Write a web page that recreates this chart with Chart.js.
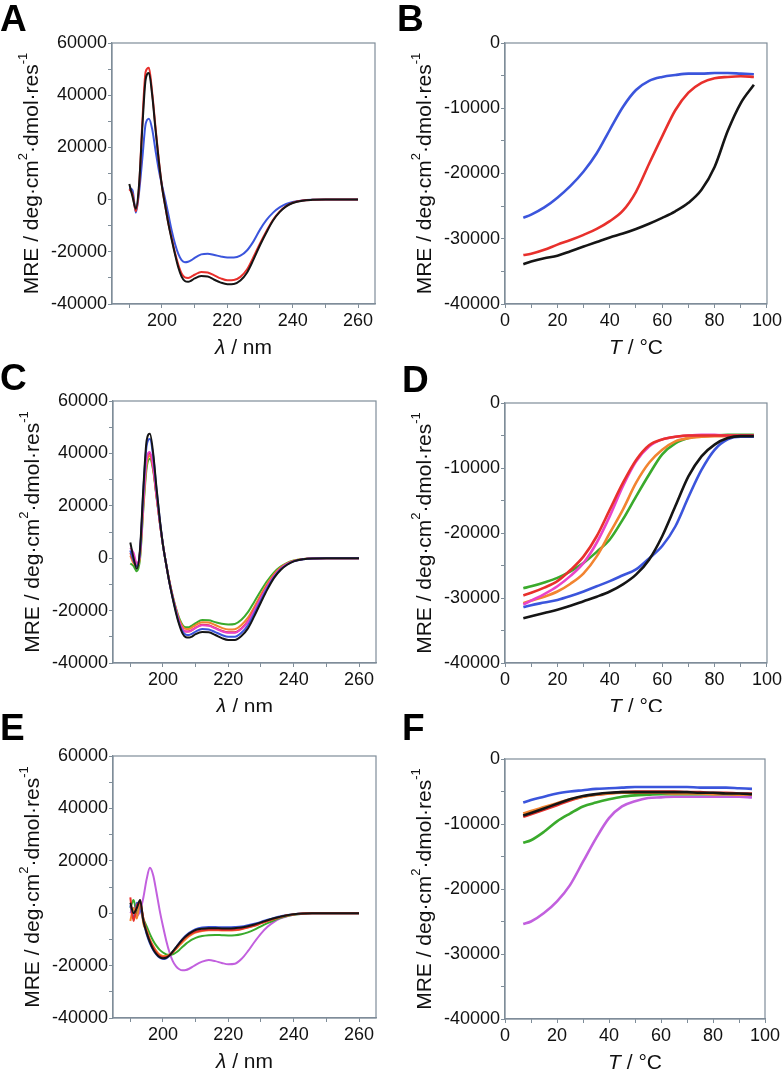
<!DOCTYPE html>
<html lang="en">
<head>
<meta charset="UTF-8">
<title>CD spectra and thermal melts</title>
<script src="https://cdn.jsdelivr.net/npm/chart.js"></script>
<style>
  body { margin: 0; background: #fff; width: 784px; height: 1073px; position: relative; overflow: hidden; }
  canvas { position: absolute; }
</style>
</head>
<body>
<script>
// ---- data ----
const wavelength = [190, 191, 192, 193, 194, 195, 196, 197, 198, 199, 200, 201, 202, 203, 204, 205, 206, 207, 208, 209, 210,
  212, 214, 216, 218, 220, 222, 224, 226, 228, 230, 232, 234, 236, 238, 240, 243, 246, 250, 255, 260];
const temperature = [7, 10, 15, 20, 25, 30, 35, 40, 45, 50, 55, 60, 65, 70, 75, 80, 85, 90, 95];

// panel A
const aBlack = [6000, 1000, -3500, 6000, 28000, 46000, 48500, 40000, 27000, 15000, 5000, -2500, -9500, -15500, -21000, -26000, -29500, -31200, -31500, -31000, -30200,
  -29300, -29500, -30700, -31800, -32400, -32300, -31000, -28000, -23000, -17500, -12500, -8000, -4800, -2600, -1300, -400, -100, 0, 0, 0];
const aRed = [4000, 2000, -4500, 5000, 30000, 49000, 50500, 41000, 28000, 15500, 5000, -2500, -9500, -15000, -20500, -25000, -28300, -29800, -30000, -29500, -28800,
  -27700, -27900, -29000, -30200, -30900, -30800, -29600, -26800, -22000, -16800, -12000, -7700, -4600, -2500, -1200, -350, -100, 0, 0, 0];
const aBlue = [4500, 3500, -5000, 3000, 16000, 29000, 31000, 27000, 19000, 11500, 5500, 0, -6000, -12000, -17000, -20800, -23200, -24000, -23800, -23200, -22300,
  -21000, -20700, -21200, -21800, -22200, -22200, -21500, -19500, -16000, -11500, -7800, -5000, -3000, -1700, -900, -300, -80, 0, 0, 0];

// panel B
const bBlack = [-33900, -33500, -33000, -32600, -31900, -31200, -30500, -29800, -29200, -28500, -27700, -26800, -25800, -24500, -22500, -19000, -13500, -9200, -6400];
const bRed = [-32500, -32300, -31700, -30900, -30200, -29400, -28500, -27300, -25700, -22800, -18500, -14300, -10300, -7600, -6100, -5400, -5200, -5100, -5200];
const bBlue = [-26800, -26300, -25200, -23700, -21900, -19700, -16900, -13300, -9800, -7200, -5800, -5200, -4900, -4700, -4700, -4600, -4600, -4700, -4800];

// panel C
const cBlack = [6000, 0, -4000, 4000, 27000, 45000, 47500, 40000, 27000, 15000, 5000, -2500, -9500, -15500, -21000, -25500, -28800, -30200, -30300, -29800, -29000,
  -28200, -28300, -29300, -30500, -31200, -31200, -29700, -26800, -22000, -16800, -11800, -7500, -4500, -2500, -1200, -400, -100, 0, 0, 0];
const cBlue = [3000, -1000, -3000, 3000, 26000, 43000, 45500, 39000, 26500, 15000, 5000, -2500, -9500, -15300, -20500, -25000, -28000, -29200, -29300, -28800, -28000,
  -27000, -27200, -28200, -29300, -30000, -30000, -28500, -25600, -21000, -16000, -11200, -7200, -4300, -2400, -1200, -400, -100, 0, 0, 0];
const cMagenta = [4000, 2000, -2000, 2000, 22000, 38000, 40500, 35000, 24500, 14000, 5000, -2500, -9300, -15000, -20000, -24300, -27000, -28000, -28000, -27400, -26600,
  -25600, -25800, -26800, -27900, -28500, -28500, -27000, -24300, -19800, -15000, -10500, -6700, -4000, -2200, -1100, -350, -100, 0, 0, 0];
const cRed = [2000, -1000, -3000, 3000, 23000, 38500, 40000, 34500, 24000, 14000, 5000, -2500, -9300, -15000, -20000, -24200, -27000, -28000, -27900, -27300, -26500,
  -25400, -25600, -26600, -27700, -28300, -28300, -26800, -24000, -19500, -14800, -10300, -6600, -3900, -2200, -1100, -350, -100, 0, 0, 0];
const cOrange = [1000, -2000, -3000, 1000, 20000, 36000, 39000, 34000, 24000, 14000, 5000, -2500, -9000, -14700, -19500, -23500, -26000, -27000, -27000, -26300, -25500,
  -24400, -24500, -25500, -26600, -27200, -27100, -25500, -22700, -18400, -13800, -9600, -6100, -3600, -2000, -1000, -300, -100, 0, 0, 0];
const cGreen = [-2000, -3000, -5000, 0, 19000, 34500, 38000, 33500, 23500, 13800, 5000, -2500, -9000, -14500, -19200, -23000, -25500, -26400, -26300, -25600, -24800,
  -23600, -23700, -24400, -25000, -25300, -25100, -23500, -20600, -16500, -12300, -8500, -5400, -3200, -1800, -900, -300, -100, 0, 0, 0];

// panel D
const dBlack = [-33100, -32800, -32300, -31800, -31200, -30500, -29800, -29000, -27900, -26400, -24100, -20500, -15900, -11300, -8200, -6400, -5400, -5100, -5100];
const dBlue = [-31400, -31100, -30700, -30300, -29700, -29000, -28200, -27400, -26500, -25600, -23900, -22000, -19000, -14500, -10300, -7200, -5600, -5200, -5200];
const dRed = [-29600, -29200, -28400, -27400, -25700, -23600, -20500, -16400, -12300, -8800, -6500, -5600, -5200, -5000, -5000, -5000, -5000, -5000, -5000];
const dMagenta = [-31000, -30400, -29400, -28200, -26600, -24600, -21500, -17400, -12800, -9000, -6700, -5600, -5200, -5000, -4900, -4900, -5000, -5000, -5000];
const dOrange = [-30800, -30400, -29800, -29000, -27800, -26200, -23600, -20000, -16400, -12300, -9200, -7200, -5900, -5400, -5200, -5100, -5100, -5100, -5100];
const dGreen = [-28500, -28200, -27600, -26900, -25900, -24600, -22900, -21000, -17900, -14400, -11000, -7900, -6200, -5400, -5100, -5000, -4900, -4900, -4900];

// panel E
const eBlack = [4000, 0, 2000, 5000, -3000, -7500, -11000, -13800, -15600, -16800, -17200, -17000, -16100, -14600, -13000, -11500, -10000, -8800, -7800, -7000, -6400,
  -5900, -5700, -5700, -5800, -5800, -5700, -5500, -5000, -4300, -3500, -2700, -1900, -1300, -750, -420, -150, -50, 0, 0, 0];
const eBlue = [3000, -2000, 4000, 2000, -3000, -8000, -11500, -14000, -15800, -17000, -17500, -17200, -16300, -14700, -13000, -11300, -9800, -8500, -7500, -6700, -6100,
  -5500, -5300, -5300, -5400, -5400, -5300, -5100, -4600, -4000, -3300, -2500, -1800, -1200, -700, -400, -150, -50, 0, 0, 0];
const eRed = [6000, -3000, 3000, 4000, -2000, -7000, -10500, -13000, -15000, -16300, -16800, -16700, -16000, -14800, -13300, -11800, -10400, -9200, -8300, -7600, -7100,
  -6500, -6300, -6300, -6400, -6400, -6300, -6000, -5400, -4700, -3800, -2900, -2100, -1400, -800, -450, -150, -50, 0, 0, 0];
const eOrange = [-3000, 2000, -2000, 5000, -4000, -6500, -10000, -12500, -14500, -15800, -16300, -16300, -15800, -14900, -13700, -12300, -11000, -9800, -8800, -8000, -7400,
  -6800, -6500, -6500, -6600, -6600, -6500, -6100, -5500, -4800, -3900, -3000, -2200, -1500, -900, -500, -150, -50, 0, 0, 0];
const eGreen = [2000, 5000, 0, 3000, -2000, -5000, -8000, -10500, -12500, -14000, -15000, -15700, -15900, -15700, -15000, -14000, -12800, -11700, -10800, -10000, -9400,
  -8700, -8400, -8300, -8400, -8500, -8400, -8000, -7300, -6300, -5000, -3800, -2700, -1800, -1100, -600, -200, -50, 0, 0, 0];
const eViolet = [0, 2000, -1000, 1000, 6000, 13000, 17300, 14500, 8000, 1000, -5000, -10500, -15000, -18300, -20300, -21400, -21800, -21700, -21200, -20500, -19700,
  -18500, -17900, -18300, -19000, -19500, -19300, -17500, -14500, -11000, -7800, -5200, -3300, -2000, -1200, -600, -200, -50, 0, 0, 0];

// panel F
const fBlack = [-8700, -8300, -7600, -6900, -6200, -5700, -5400, -5200, -5100, -5100, -5100, -5100, -5100, -5100, -5200, -5200, -5300, -5300, -5400];
const fOrange = [-8400, -8000, -7400, -6800, -6200, -5800, -5500, -5300, -5200, -5200, -5200, -5200, -5300, -5300, -5300, -5400, -5400, -5500, -5500];
const fRed = [-8900, -8500, -7800, -7100, -6400, -5800, -5500, -5300, -5100, -5000, -5000, -5000, -5000, -5100, -5100, -5200, -5200, -5300, -5300];
const fBlue = [-6700, -6300, -5800, -5300, -5000, -4800, -4600, -4500, -4400, -4300, -4300, -4300, -4300, -4300, -4400, -4400, -4400, -4500, -4600];
const fGreen = [-12900, -12500, -11200, -9600, -8400, -7300, -6700, -6200, -5800, -5600, -5500, -5400, -5400, -5400, -5400, -5400, -5400, -5500, -5500];
const fViolet = [-25400, -25000, -23700, -21900, -19400, -15800, -12200, -9100, -7300, -6500, -6000, -5900, -5800, -5800, -5800, -5800, -5800, -5800, -5900];

// ticks (majors get a label, minors only a mark)
const wlTicks = [190, 200, 210, 220, 230, 240, 250, 260];
const wlLabels = [200, 220, 240, 260];
const tTicks = [0, 10, 20, 30, 40, 50, 60, 70, 80, 90, 100];
const tLabels = [0, 20, 40, 60, 80, 100];
const specYTicks = [-40000, -30000, -20000, -10000, 0, 10000, 20000, 30000, 40000, 50000, 60000];
const specYLabels = [-40000, -20000, 0, 20000, 40000, 60000];
const meltYTicks = [-40000, -35000, -30000, -25000, -20000, -15000, -10000, -5000, 0];
const meltYLabels = [-40000, -30000, -20000, -10000, 0];

// colours
const BLACK = '#151515', RED = '#e8302c', BLUE = '#3b55dc', GREEN = '#3aaa2c',
  MAGENTA = '#ea44c8', ORANGE = '#f28430', VIOLET = '#c260de';
const FRAME = '#7f8d99';
const FONT = "'Liberation Sans', Arial, sans-serif";

const spec = { xs: wavelength, xmin: 184.7, xmax: 265.2, ymin: -40000, ymax: 60000, xt: wlTicks, xl: wlLabels, yt: specYTicks, yl: specYLabels, lw: 2, xTitle: 'λ', xUnit: ' / nm' };
const melt = { xs: temperature, xmin: 0, xmax: 100, ymin: -40000, ymax: 0, xt: tTicks, xl: tLabels, yt: meltYTicks, yl: meltYLabels, lw: 2.6, xTitle: 'T', xUnit: ' / °C' };

const panels = [
  { ...spec, letter: 'A', lx: 0, ly: 31, cv: { x: 0, y: 0, w: 392, h: 356 }, area: { l: 112, t: 43, r: 375, b: 304 },
    series: [[aBlack, BLACK], [aRed, RED], [aBlue, BLUE]] },
  { ...melt, letter: 'B', lx: 397, ly: 31, cv: { x: 392, y: 0, w: 392, h: 356 }, area: { l: 505, t: 43, r: 767, b: 304 },
    series: [[bBlack, BLACK], [bRed, RED], [bBlue, BLUE]] },
  { ...spec, letter: 'C', lx: 0, ly: 390, cv: { x: 0, y: 356, w: 392, h: 356 }, area: { l: 113, t: 401, r: 376, b: 663 },
    series: [[cBlack, BLACK], [cBlue, BLUE], [cMagenta, MAGENTA], [cRed, RED], [cOrange, ORANGE], [cGreen, GREEN]] },
  { ...melt, letter: 'D', lx: 402, ly: 392, cv: { x: 392, y: 356, w: 392, h: 356 }, area: { l: 505, t: 403, r: 767, b: 663 },
    series: [[dBlack, BLACK], [dBlue, BLUE], [dRed, RED], [dMagenta, MAGENTA], [dOrange, ORANGE], [dGreen, GREEN]] },
  { ...spec, letter: 'E', lx: 0, ly: 740, cv: { x: 0, y: 712, w: 392, h: 361 }, area: { l: 113, t: 756, r: 376, b: 1018 },
    series: [[eBlack, BLACK], [eRed, RED], [eOrange, ORANGE], [eBlue, BLUE], [eGreen, GREEN], [eViolet, VIOLET]] },
  { ...melt, letter: 'F', lx: 402, ly: 740, cv: { x: 392, y: 712, w: 392, h: 361 }, area: { l: 505, t: 759, r: 765, b: 1019 },
    series: [[fBlack, BLACK], [fOrange, ORANGE], [fRed, RED], [fBlue, BLUE], [fGreen, GREEN], [fViolet, VIOLET]] }
];

// frame, axis titles and panel letter
const framePlugin = {
  id: 'frame',
  afterDraw(chart, args, o) {
    const { ctx, chartArea: a } = chart;
    ctx.save();
    ctx.strokeStyle = FRAME;
    ctx.lineWidth = 1.2;
    ctx.strokeRect(a.left, a.top, a.right - a.left, a.bottom - a.top);

    ctx.fillStyle = '#111';
    // y title with superscripts
    const parts = [['MRE / deg·cm', false], ['2', true], ['·dmol·res', false], ['-1', true]];
    const big = '21px ' + FONT, small = '13px ' + FONT;
    let total = 0;
    parts.forEach(p => { ctx.font = p[1] ? small : big; total += ctx.measureText(p[0]).width; });
    ctx.translate(a.left - 80, (a.top + a.bottom) / 2);
    ctx.rotate(-Math.PI / 2);
    ctx.textBaseline = 'middle';
    ctx.textAlign = 'left';
    let x = -total / 2;
    parts.forEach(p => {
      ctx.font = p[1] ? small : big;
      ctx.fillText(p[0], x, p[1] ? -9 : 0);
      x += ctx.measureText(p[0]).width;
    });
    ctx.setTransform(1, 0, 0, 1, 0, 0);

    // x title
    ctx.font = 'italic 21px ' + FONT;
    const w1 = ctx.measureText(o.xTitle).width;
    ctx.font = '21px ' + FONT;
    const w2 = ctx.measureText(o.xUnit).width;
    let sx = (a.left + a.right) / 2 - (w1 + w2) / 2;
    const sy = a.bottom + 44;
    ctx.font = 'italic 21px ' + FONT;
    ctx.fillText(o.xTitle, sx, sy);
    ctx.font = '21px ' + FONT;
    ctx.fillText(o.xUnit, sx + w1, sy);

    // panel letter
    ctx.textBaseline = 'alphabetic';
    ctx.fillStyle = '#000';
    ctx.font = 'bold 37px ' + FONT;
    ctx.fillText(o.letter, o.lx, o.ly);
    ctx.restore();
  }
};

function makeChart(p) {
  const canvas = document.createElement('canvas');
  canvas.width = p.cv.w;
  canvas.height = p.cv.h;
  canvas.style.left = p.cv.x + 'px';
  canvas.style.top = p.cv.y + 'px';
  document.body.appendChild(canvas);

  const tickFont = { family: FONT, size: 18 };
  new Chart(canvas, {
    type: 'line',
    data: {
      datasets: p.series.map(s => ({
        data: p.xs.map((x, i) => ({ x: x, y: s[0][i] })),
        borderColor: s[1],
        borderWidth: p.lw,
        pointRadius: 0,
        fill: false,
        cubicInterpolationMode: 'monotone'
      }))
    },
    options: {
      responsive: false,
      animation: false,
      devicePixelRatio: 1,
      events: [],
      layout: { padding: { left: 0, bottom: 0, top: p.area.t - p.cv.y, right: p.cv.x + p.cv.w - p.area.r } },
      plugins: {
        legend: { display: false },
        tooltip: { enabled: false },
        frame: { xTitle: p.xTitle, xUnit: p.xUnit, letter: p.letter, lx: p.lx - p.cv.x, ly: p.ly - p.cv.y }
      },
      scales: {
        x: {
          type: 'linear', min: p.xmin, max: p.xmax,
          afterFit: s => { s.height = p.cv.y + p.cv.h - p.area.b; },
          afterBuildTicks: s => { s.ticks = p.xt.map(v => ({ value: v })); },
          ticks: { autoSkip: false, maxRotation: 0, padding: 2, color: '#111', font: tickFont,
            callback: v => p.xl.includes(v) ? String(v) : '' },
          grid: { drawOnChartArea: false, drawTicks: true, tickLength: 4, color: FRAME },
          border: { display: true, color: FRAME, width: 1.2 }
        },
        y: {
          type: 'linear', min: p.ymin, max: p.ymax,
          afterFit: s => { s.width = p.area.l - p.cv.x; },
          afterBuildTicks: s => { s.ticks = p.yt.map(v => ({ value: v })); },
          ticks: { autoSkip: false, padding: 1, color: '#111', font: tickFont,
            callback: v => p.yl.includes(v) ? String(v) : '' },
          grid: { drawOnChartArea: false, drawTicks: true, tickLength: 4, color: FRAME },
          border: { display: true, color: FRAME, width: 1.2 }
        }
      }
    },
    plugins: [framePlugin]
  });
}

panels.forEach(makeChart);
</script>
</body>
</html>
